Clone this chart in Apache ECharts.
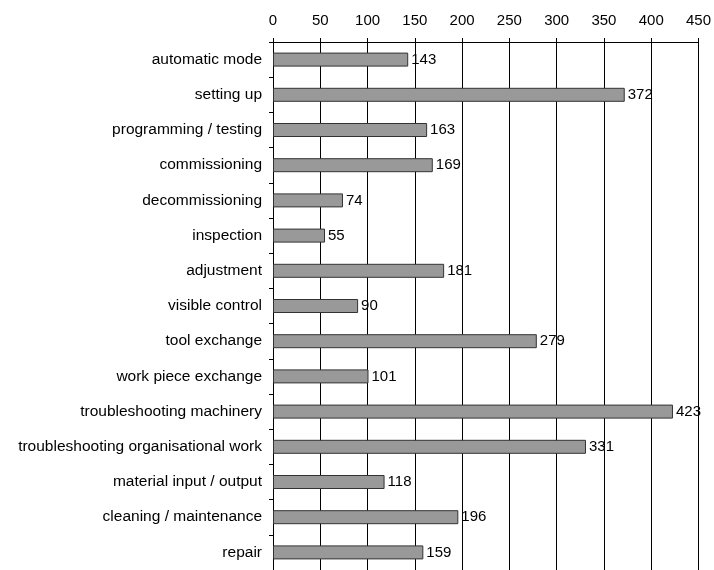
<!DOCTYPE html>
<html><head><meta charset="utf-8">
<script src="https://cdn.jsdelivr.net/npm/echarts@6/dist/echarts.min.js"></script>
<style>html,body{margin:0;padding:0;background:#fff}#c{width:714px;height:570px}</style>
</head><body><div id="c"></div>
<script>
var categories = ["automatic mode","setting up","programming / testing","commissioning","decommissioning","inspection","adjustment","visible control","tool exchange","work piece exchange","troubleshooting machinery","troubleshooting organisational work","material input / output","cleaning / maintenance","repair"];
var values = [143,372,163,169,74,55,181,90,279,101,423,331,118,196,159];
var xMin = 0, xMax = 450, xInterval = 50;

var FF = 'Liberation Sans, Arial, sans-serif';
var chart = echarts.init(document.getElementById('c'), null, {renderer:'canvas'});
chart.setOption({
  animation:false,
  backgroundColor:'#ffffff',
  textStyle:{fontFamily:FF},
  grid:{left:273, top:42, width:427, height:529, containLabel:false},
  xAxis:{
    type:'value', position:'top', min:xMin, max:xMax, interval:xInterval,
    axisLine:{show:true, lineStyle:{color:'#000', width:1}},
    axisTick:{show:true, length:4, lineStyle:{color:'#000'}},
    axisLabel:{color:'#000', fontSize:15, margin:14, fontFamily:FF},
    splitLine:{show:true, lineStyle:{color:'#000', width:1}}
  },
  yAxis:{
    type:'category', inverse:true, data:categories,
    axisLine:{show:true, lineStyle:{color:'#000', width:1}},
    axisTick:{show:true, length:4, lineStyle:{color:'#000'}},
    axisLabel:{color:'#000', fontSize:15.5, margin:11, fontFamily:FF}
  },
  series:[{
    type:'bar', data:values, barWidth:14,
    itemStyle:{color:'#999999', borderColor:'#333333', borderWidth:1},
    label:{show:true, position:'right', distance:3, color:'#000', fontSize:15, fontFamily:FF}
  }]
});
</script></body></html>
